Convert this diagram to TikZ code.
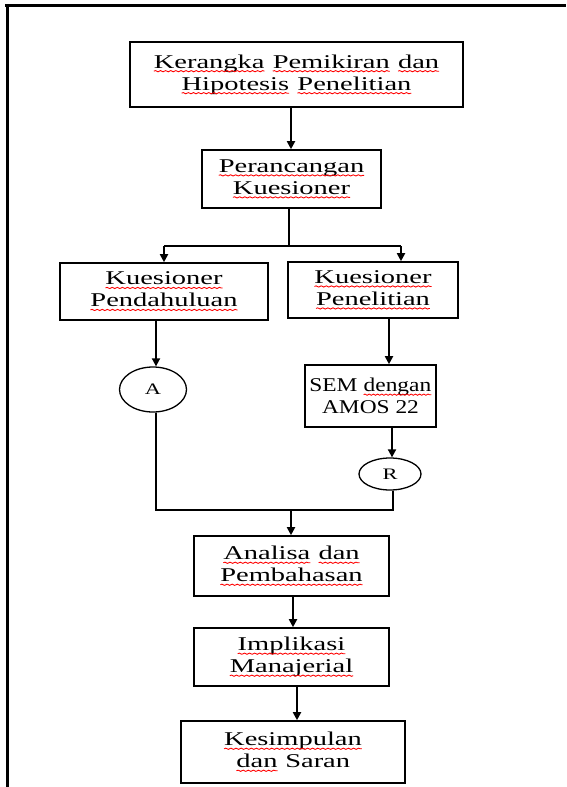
\documentclass[tikz,border=0pt]{standalone}
\usepackage{fontspec}
\setmainfont{Liberation Serif}
\usepackage{graphicx}
\usetikzlibrary{arrows.meta,shapes.geometric,decorations.pathmorphing}
\newcommand\sx[1]{\scalebox{1.46}[1]{#1}}
\newcommand\sy[1]{\scalebox{1.2}[1]{#1}}
\tikzset{
  wordnode/.style={shape=rectangle, draw=none, fill=none, inner sep=0pt, outer sep=0pt,
    minimum width=0pt, minimum height=0pt, anchor=base west, text=black},
  squiggle/.style={draw=red, line width=0.8pt,
    decorate, decoration={snake, amplitude=0.6pt, segment length=3.5pt}},
}
\newcommand\rw[1]{\tikz[baseline=0pt]{\node[wordnode] (w) at (0pt,0pt) {#1};%
  \draw[squiggle] (0pt,-3pt) -- ([yshift=-3pt]w.base east);}}
\tikzset{
  box/.style={draw, line width=1.6pt, rectangle, inner sep=0pt, align=center,
    font=\fontsize{19.5}{22}\selectfont},
  conn/.style={draw, line width=1.3pt, ellipse, inner sep=0pt,
    font=\fontsize{16}{18}\selectfont},
  link/.style={line width=1.8pt},
  arr/.style={link, -{Triangle[length=8pt,width=8pt]}},
  frame/.style={line width=3pt},
}
\begin{document}
\begin{tikzpicture}[x=1pt,y=-1pt]
\useasboundingbox (0,0) rectangle (567,787);
% frame
\coordinate (fl) at (5,5.5);
\coordinate (fr) at (566,5.5);
\coordinate (ft) at (7.5,4);
\coordinate (fb) at (7.5,787);
\draw[frame] (fl) -- (fr);
\draw[frame] (ft) -- (fb);

\node[box, minimum width=333pt, minimum height=65pt] (b1) at (296.5,74.5)
  {\sx{\rw{Kerangka} \rw{Pemikiran} \rw{dan}}\\\sx{\rw{Hipotesis} \rw{Penelitian}}};
\node[box, minimum width=179pt, minimum height=58pt] (b2) at (291.5,179)
  {\sx{\rw{Perancangan}}\\\sx{\rw{Kuesioner}}};
\node[box, minimum width=208pt, minimum height=57pt] (b3) at (164,291.5)
  {\sx{\rw{Kuesioner}}\\\sx{\rw{Pendahuluan}}};
\node[box, minimum width=170pt, minimum height=56pt] (b4) at (373,290)
  {\sx{\rw{Kuesioner}}\\\sx{\rw{Penelitian}}};
\node[conn, minimum width=67pt, minimum height=45pt] (ca) at (153,389.5) {\scalebox{1.4}[1]{A}};
\node[box, minimum width=131pt, minimum height=62pt] (b5) at (370.5,396)
  {\sy{SEM \rw{dengan}}\\\sy{AMOS 22}};
\node[conn, minimum width=62pt, minimum height=32pt] (cb) at (390,474) {\scalebox{1.4}[1]{R}};
\node[box, minimum width=195pt, minimum height=60pt] (b6) at (291.5,566)
  {\sx{\rw{Analisa} \rw{dan}}\\\sx{\rw{Pembahasan}}};
\node[box, minimum width=195pt, minimum height=58pt] (b7) at (291.5,657)
  {\sx{\rw{Implikasi}}\\\sx{\rw{Manajerial}}};
\node[box, minimum width=224pt, minimum height=62pt] (b8) at (293,752)
  {\sx{\rw{Kesimpulan}}\\\sx{\rw{dan} Saran}};

\coordinate (split) at (289,246);
\coordinate (sl) at (164,246);
\coordinate (sr) at (401,246);
\coordinate (ml) at (156,510);
\coordinate (mr) at (393,510);
\coordinate (mm) at (291,510);

\draw[arr] (b1.south -| 291,0) -- (b2.north -| 291,0);
\draw[link] (b2.south -| split) -- (split);
\draw[link] (sl) -- (sr);
\draw[arr] (sl) -- (b3.north -| sl);
\draw[arr] (sr) -- (b4.north -| sr);
\draw[arr] (b3.south -| 156,0) -- (ca.north -| 156,0);
\draw[arr] (b4.south -| 389,0) -- (b5.north -| 389,0);
\draw[arr] (b5.south -| 392,0) -- (cb.north -| 392,0);
\draw[link] (ca.south -| ml) -- (ml) -- (mr) -- (cb.south -| mr);
\draw[arr] (mm) -- (b6.north -| mm);
\draw[arr] (b6.south -| 293,0) -- (b7.north -| 293,0);
\draw[arr] (b7.south -| 297,0) -- (b8.north -| 297,0);
\end{tikzpicture}
\end{document}
